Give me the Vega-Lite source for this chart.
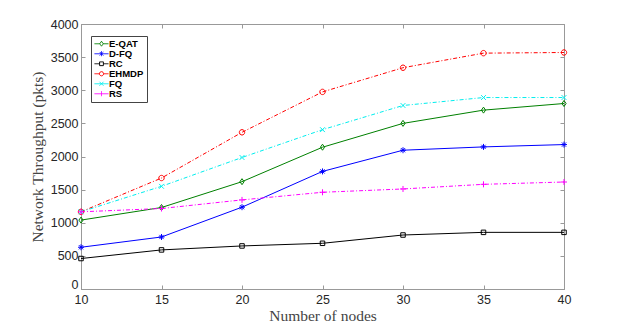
{
  "$schema": "https://vega.github.io/schema/vega-lite/v6.json",
  "autosize": "none",
  "width": 483,
  "height": 265,
  "padding": {"left": 81, "top": 24, "right": 59, "bottom": 36},
  "background": "white",
  "config": {
    "view": {"stroke": "#999999", "strokeWidth": 1},
    "axis": {
      "grid": false,
      "domainColor": "#999999",
      "tickColor": "#999999",
      "labelFont": "Liberation Sans",
      "labelFontSize": 12.5,
      "labelColor": "#262626",
      "titleFont": "Liberation Serif",
      "titleFontSize": 15.5,
      "titleFontWeight": "normal",
      "titleColor": "#444444"
    }
  },
  "data": {
    "values": [
      {"series": "E-QAT", "nodes": 10, "value": 1040},
      {"series": "E-QAT", "nodes": 15, "value": 1230},
      {"series": "E-QAT", "nodes": 20, "value": 1620},
      {"series": "E-QAT", "nodes": 25, "value": 2140},
      {"series": "E-QAT", "nodes": 30, "value": 2500},
      {"series": "E-QAT", "nodes": 35, "value": 2700},
      {"series": "E-QAT", "nodes": 40, "value": 2800},
      {"series": "D-FQ", "nodes": 10, "value": 630},
      {"series": "D-FQ", "nodes": 15, "value": 785},
      {"series": "D-FQ", "nodes": 20, "value": 1235},
      {"series": "D-FQ", "nodes": 25, "value": 1775},
      {"series": "D-FQ", "nodes": 30, "value": 2095},
      {"series": "D-FQ", "nodes": 35, "value": 2145},
      {"series": "D-FQ", "nodes": 40, "value": 2180},
      {"series": "RC", "nodes": 10, "value": 460},
      {"series": "RC", "nodes": 15, "value": 590},
      {"series": "RC", "nodes": 20, "value": 650},
      {"series": "RC", "nodes": 25, "value": 690},
      {"series": "RC", "nodes": 30, "value": 815},
      {"series": "RC", "nodes": 35, "value": 855},
      {"series": "RC", "nodes": 40, "value": 855},
      {"series": "EHMDP", "nodes": 10, "value": 1165},
      {"series": "EHMDP", "nodes": 15, "value": 1675},
      {"series": "EHMDP", "nodes": 20, "value": 2365},
      {"series": "EHMDP", "nodes": 25, "value": 2975},
      {"series": "EHMDP", "nodes": 30, "value": 3340},
      {"series": "EHMDP", "nodes": 35, "value": 3560},
      {"series": "EHMDP", "nodes": 40, "value": 3570},
      {"series": "FQ", "nodes": 10, "value": 1165},
      {"series": "FQ", "nodes": 15, "value": 1550},
      {"series": "FQ", "nodes": 20, "value": 1985},
      {"series": "FQ", "nodes": 25, "value": 2405},
      {"series": "FQ", "nodes": 30, "value": 2770},
      {"series": "FQ", "nodes": 35, "value": 2890},
      {"series": "FQ", "nodes": 40, "value": 2890},
      {"series": "RS", "nodes": 10, "value": 1165},
      {"series": "RS", "nodes": 15, "value": 1215},
      {"series": "RS", "nodes": 20, "value": 1345},
      {"series": "RS", "nodes": 25, "value": 1460},
      {"series": "RS", "nodes": 30, "value": 1510},
      {"series": "RS", "nodes": 35, "value": 1580},
      {"series": "RS", "nodes": 40, "value": 1615}
    ]
  },
  "encoding": {
    "x": {
      "field": "nodes", "type": "quantitative",
      "scale": {"domain": [10, 40], "nice": false, "zero": false},
      "axis": null
    },
    "y": {
      "field": "value", "type": "quantitative",
      "scale": {"domain": [0, 4000], "nice": false},
      "axis": null
    },
    "color": {
      "field": "series", "type": "nominal",
      "scale": {
        "domain": ["E-QAT", "D-FQ", "RC", "EHMDP", "FQ", "RS"],
        "range": ["#008000", "#0000ff", "#000000", "#ff0000", "#00eeee", "#ff00ff"]
      },
      "legend": {
        "orient": "none",
        "legendX": 10,
        "legendY": 12,
        "title": null,
        "strokeColor": "#444444",
        "fillColor": "white",
        "padding": 3,
        "rowPadding": -1,
        "clipHeight": 9.5,
        "labelFont": "Liberation Sans",
        "labelFontSize": 9.5,
        "labelFontWeight": "bold",
        "labelColor": "#000000",
        "labelOffset": 0,
        "symbolType": "M-1,0H1",
        "symbolSize": 196,
        "symbolStrokeWidth": 1,
        "symbolFillColor": "transparent",
        "symbolDash": [1, 0],
        "encode": {
          "symbols": {
            "update": {
              "shape": {"signal": "datum.value === 'E-QAT' ? 'M-1,0H-0.25M0.25,0H1M0,-0.35L0.25,0L0,0.35L-0.25,0Z' : datum.value === 'D-FQ' ? 'M-1,0H1M0,-0.35V0.35M-0.25,-0.25L0.25,0.25M-0.25,0.25L0.25,-0.25' : datum.value === 'RC' ? 'M-1,0H-0.27M0.27,0H1M-0.27,-0.27H0.27V0.27H-0.27Z' : datum.value === 'EHMDP' ? 'M-1,0H-0.3M0.3,0H1M-0.3,0A0.3,0.3 0 1,0 0.3,0A0.3,0.3 0 1,0 -0.3,0' : datum.value === 'FQ' ? 'M-1,0H1M-0.28,-0.28L0.28,0.28M-0.28,0.28L0.28,-0.28' : 'M-1,0H1M0,-0.35V0.35'"},
              "fill": {"value": "transparent"}
            }
          }
        }
      }
    }
  },
  "layer": [
    {
      "transform": [{"filter": {"field": "series", "oneOf": ["E-QAT", "D-FQ", "RC"]}}],
      "mark": {"type": "line", "strokeWidth": 1},
      "encoding": {
        "x": {
          "field": "nodes", "type": "quantitative",
          "scale": {"domain": [10, 40], "nice": false, "zero": false},
          "axis": {"values": [10, 15, 20, 25, 30, 35, 40], "title": "Number of nodes", "tickSize": -4, "labelPadding": 8, "titlePadding": 3, "labelFlush": false}
        },
        "y": {
          "field": "value", "type": "quantitative",
          "scale": {"domain": [0, 4000], "nice": false},
          "axis": {
            "values": [0, 500, 1000, 1500, 2000, 2500, 3000, 3500, 4000],
            "format": "d",
            "title": "Network Throughput (pkts)", "tickSize": -4, "labelPadding": 7, "titlePadding": 5,
            "labelOffset": {"condition": {"test": "datum.value === 0", "value": -5}, "value": 0}
          }
        }
      }
    },
    {
      "transform": [{"filter": {"field": "series", "oneOf": ["EHMDP", "FQ", "RS"]}}],
      "mark": {"type": "line", "strokeWidth": 1, "strokeDash": [4, 2, 1, 2]},
      "encoding": {
        "x": {
          "field": "nodes", "type": "quantitative",
          "scale": {"domain": [10, 40], "nice": false, "zero": false},
          "axis": {"orient": "top", "values": [10, 15, 20, 25, 30, 35, 40], "title": null, "labels": false, "domain": false, "tickSize": -4}
        },
        "y": {
          "field": "value", "type": "quantitative",
          "scale": {"domain": [0, 4000], "nice": false},
          "axis": {"orient": "right", "values": [0, 500, 1000, 1500, 2000, 2500, 3000, 3500, 4000], "title": null, "labels": false, "domain": false, "tickSize": -4}
        }
      }
    },
    {
      "transform": [{"filter": {"field": "series", "equal": "E-QAT"}}],
      "mark": {"type": "point", "filled": false, "strokeWidth": 1, "size": 36, "opacity": 1, "shape": "M0,-1L0.7,0L0,1L-0.7,0Z"}
    },
    {
      "transform": [{"filter": {"field": "series", "equal": "D-FQ"}}],
      "mark": {"type": "point", "filled": false, "strokeWidth": 1, "size": 36, "opacity": 1, "shape": "M-1,0H1M0,-1V1M-0.7,-0.7L0.7,0.7M-0.7,0.7L0.7,-0.7"}
    },
    {
      "transform": [{"filter": {"field": "series", "equal": "RC"}}],
      "mark": {"type": "point", "filled": false, "strokeWidth": 1, "size": 36, "opacity": 1, "shape": "M-0.75,-0.75H0.75V0.75H-0.75Z"}
    },
    {
      "transform": [{"filter": {"field": "series", "equal": "EHMDP"}}],
      "mark": {"type": "point", "filled": false, "strokeWidth": 1, "size": 36, "opacity": 1, "shape": "M-0.9,0A0.9,0.9 0 1,0 0.9,0A0.9,0.9 0 1,0 -0.9,0"}
    },
    {
      "transform": [{"filter": {"field": "series", "equal": "FQ"}}],
      "mark": {"type": "point", "filled": false, "strokeWidth": 1, "size": 36, "opacity": 1, "shape": "M-0.8,-0.8L0.8,0.8M-0.8,0.8L0.8,-0.8"}
    },
    {
      "transform": [{"filter": {"field": "series", "equal": "RS"}}],
      "mark": {"type": "point", "filled": false, "strokeWidth": 1, "size": 36, "opacity": 1, "shape": "M-1,0H1M0,-1V1"}
    }
  ],
  "resolve": {"axis": {"x": "independent", "y": "independent"}}
}
